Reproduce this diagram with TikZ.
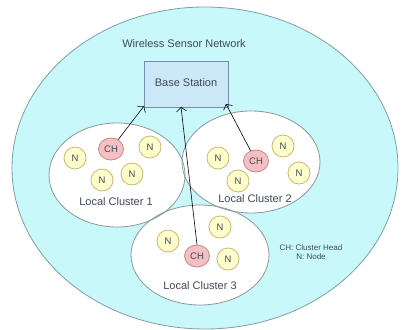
\documentclass[tikz,border=0pt]{standalone}
\usepackage{fontspec}
\setmainfont{Liberation Sans}
\usetikzlibrary{arrows.meta}
\definecolor{wsnfill}{HTML}{C8F8FA}
\definecolor{wsnline}{HTML}{7F9EA6}
\definecolor{bsfill}{HTML}{CCE8F8}
\definecolor{bsline}{HTML}{7090A8}
\definecolor{nfill}{HTML}{FFFFCC}
\definecolor{nline}{HTML}{C8B878}
\definecolor{chfill}{HTML}{F4C0C4}
\definecolor{chline}{HTML}{C08888}
\definecolor{txt}{HTML}{404A58}
\definecolor{clline}{HTML}{8C9898}
\tikzset{
  nnode/.style={circle, draw=nline, fill=nfill, line width=0.8pt, minimum size=22pt, inner sep=0pt, font=\fontsize{9.5}{10}\selectfont, text=txt},
  chnode/.style={ellipse, draw=chline, fill=chfill, line width=0.8pt, minimum width=25pt, minimum height=22pt, inner sep=0pt, font=\fontsize{9.5}{10}\selectfont, text=txt},
  lbl/.style={font=\fontsize{11}{12}\selectfont, text=txt},
  link/.style={black, line width=0.6pt, -{Straight Barb[length=4pt,width=10pt]}},
}
\usetikzlibrary{shapes.geometric}
\begin{document}
\begin{tikzpicture}[x=1pt,y=-1pt]
\useasboundingbox (0,0) rectangle (401,329);
\fill[white] (0,0) rectangle (401,329);
% outer network
\begin{scope}
\clip (0,0) rectangle (401,329);
\draw[wsnline, fill=wsnfill, line width=0.8pt] (205,168) ellipse [x radius=193, y radius=161];
\end{scope}
\node[lbl] (title) at (184,44) {Wireless Sensor Network};
% base station
\node[draw=bsline, fill=bsfill, line width=0.8pt, minimum width=84pt, minimum height=46pt, inner sep=0pt, anchor=north west] (bs) at (144,61) {};
\node[lbl] (bst) at (186,83) {Base Station};
% clusters: fills then borders
\fill[white] (117,175) ellipse [x radius=68, y radius=52];
\fill[white] (251,162) ellipse [x radius=69, y radius=51];
\fill[white] (200,255) ellipse [x radius=69, y radius=50];
\draw[clline, line width=0.8pt] (117,175) ellipse [x radius=68, y radius=52];
\draw[clline, line width=0.8pt] (251,162) ellipse [x radius=69, y radius=51];
\draw[clline, line width=0.8pt] (200,255) ellipse [x radius=69, y radius=50];
% cluster 1
\node[nnode] (n11) at (75,158) {N};
\node[chnode] (ch1) at (111,149) {CH};
\node[nnode] (n12) at (150,147) {N};
\node[nnode] (n13) at (102,180) {N};
\node[nnode] (n14) at (132,174) {N};
\node[lbl] (l1) at (116,202) {Local Cluster 1};
% cluster 2
\node[nnode] (n21) at (218,158) {N};
\node[chnode] (ch2) at (256,161) {CH};
\node[nnode] (n22) at (283,146) {N};
\node[nnode] (n23) at (238,181) {N};
\node[nnode] (n24) at (299,173) {N};
\node[lbl] (l2) at (255,199) {Local Cluster 2};
% cluster 3
\node[nnode] (n31) at (168,241) {N};
\node[nnode] (n32) at (220,227) {N};
\node[chnode] (ch3) at (197,256) {CH};
\node[nnode] (n33) at (228,259) {N};
\node[lbl] (l3) at (200,286) {Local Cluster 3};
% legend
\node[font=\fontsize{8}{9.5}\selectfont, text=txt, align=center] (leg) at (311,252) {CH: Cluster Head\\N: Node};
% links
\coordinate (t1) at (144,106);
\coordinate (t2) at (181,107);
\coordinate (t3) at (226,104);
\draw[link] (ch1) -- (t1);
\draw[link] (ch3.north) -- (t2);
\draw[link] (ch2) -- (t3);
\end{tikzpicture}
\end{document}
